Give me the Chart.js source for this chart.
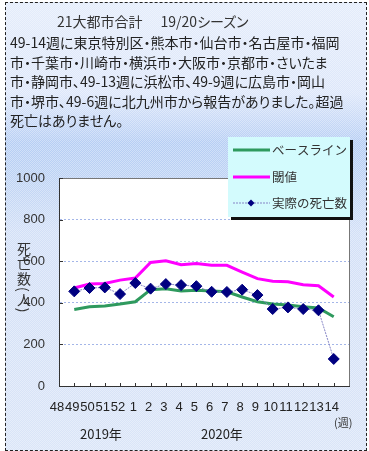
<!DOCTYPE html>
<html>
<head>
<meta charset="utf-8">
<script src="https://cdn.jsdelivr.net/npm/chart.js@4.4.1/dist/chart.umd.min.js"></script>
<style>
  html, body { margin: 0; padding: 0; background: #fff; }
  #wrap { position: relative; width: 369px; height: 451px; overflow: hidden; }
  #frame {
    position: absolute; left: 5px; top: 2px; width: 360px; height: 447px;
    border: 1px dashed #222;
    background:
      repeating-conic-gradient(rgba(255,255,255,.35) 0 25%, transparent 0 50%) 0 0/2px 2px,
      linear-gradient(180deg, #e4ecfb 0px, #dde7fa 90px, #b6cef4 140px, #bcd2f4 170px, #d3e0f7 230px, #dae5f8 447px);
  }
  canvas { position: absolute; left: 0; top: 0; }
  .t {
    position: absolute; white-space: nowrap; color: #222;
    font-family: "Noto Sans CJK JP", sans-serif; font-feature-settings: "palt";
  }
</style>
</head>
<body>
<div id="wrap">
  <div id="frame"></div>
  <canvas id="chart" width="369" height="451"></canvas>
  <div class="t" style="left:57px;top:12px;font-size:14px;line-height:19.5px;color:#333;">21大都市合計<span style="display:inline-block;width:18px;"></span>19/20シーズン</div>
  <div class="t" style="left:10px;top:33px;font-size:14px;line-height:19.5px;">49-14週に東京特別区・熊本市・仙台市・名古屋市・福岡<br>市・千葉市・川崎市・横浜市・大阪市・京都市・さいたま<br>市・静岡市、49-13週に浜松市、49-9週に広島市・岡山<br>市・堺市、49-6週に北九州市から報告がありました。超過<br>死亡はありません。</div>
  <div class="t" style="left:15px;top:242px;font-size:14px;line-height:18px;writing-mode:vertical-rl;letter-spacing:1px;color:#333;">死亡数(人)</div>
  <div class="t" style="left:80px;top:424px;font-size:13px;color:#222;">2019年</div>
  <div class="t" style="left:201px;top:424px;font-size:13px;color:#222;">2020年</div>
  <div class="t" style="left:334px;top:414px;font-size:11px;color:#333;">(週)</div>
</div>
<script>
// 週番号 (48週は軸の起点、末尾は空き)
const weeks = ['48', '49', '50', '51', '52', '1', '2', '3', '4', '5', '6', '7', '8', '9', '10', '11', '12', '13', '14', ''];

// ベースライン
const baseline = [null, 368, 381, 385, 394, 405, 463, 468, 457, 460, 457, 453, 428, 405, 394, 389, 381, 375, 333, null];
// 閾値
const threshold = [null, 471, 490, 493, 509, 519, 594, 602, 583, 589, 580, 580, 548, 516, 504, 501, 487, 482, 428, null];
// 実際の死亡数
const actual = [null, 455, 471, 474, 442, 495, 468, 490, 485, 480, 453, 452, 463, 437, 370, 378, 370, 364, 130, null];

const yTicks = [0, 200, 400, 600, 800, 1000];

const fontNum = "'Liberation Sans', 'Noto Sans CJK JP', sans-serif";
const fontJa = "'Noto Sans CJK JP', sans-serif";

// plot background, frame and the small inward tick marks
const plotFrame = {
  id: 'plotFrame',
  beforeDraw(chart) {
    const { ctx, chartArea: a } = chart;
    ctx.save();
    ctx.fillStyle = '#fff';
    ctx.fillRect(a.left, a.top, a.right - a.left, a.bottom - a.top);
    ctx.restore();
  },
  afterDatasetsDraw(chart) {
    const { ctx, chartArea: a, scales } = chart;
    ctx.save();
    ctx.strokeStyle = '#777';
    ctx.lineWidth = 1;
    ctx.beginPath();
    ctx.moveTo(a.left, a.top + 0.5);
    ctx.lineTo(a.right + 0.5, a.top + 0.5);
    ctx.lineTo(a.right + 0.5, a.bottom);
    ctx.stroke();
    ctx.strokeStyle = '#333';
    ctx.beginPath();
    yTicks.forEach((v) => {
      const y = Math.round(scales.y.getPixelForValue(v)) + 0.5;
      ctx.moveTo(a.left, y);
      ctx.lineTo(a.left + 4, y);
    });
    for (let i = 1; i < weeks.length - 1; i += 1) {
      const x = Math.round(scales.x.getPixelForValue(i)) + 0.5;
      ctx.moveTo(x, a.bottom);
      ctx.lineTo(x, a.bottom - 3);
    }
    ctx.stroke();
    ctx.restore();
  },
  afterDraw(chart) {
    // legend box with drop shadow, like the Excel one
    const { ctx } = chart;
    const bx = 228;
    const by = 137;
    const bw = 122;
    const bh = 80;
    ctx.save();
    ctx.fillStyle = '#111';
    ctx.fillRect(bx + 3, by + 3, bw, bh);
    ctx.fillStyle = '#d3fbfd';
    ctx.fillRect(bx, by, bw, bh);
    const rows = [150, 177, 203];
    chart.data.datasets.forEach((ds, i) => {
      const y = rows[i];
      ctx.strokeStyle = ds.borderColor;
      ctx.lineWidth = ds.borderWidth;
      ctx.setLineDash(ds.borderDash || []);
      ctx.beginPath();
      ctx.moveTo(233, y);
      ctx.lineTo(270, y);
      ctx.stroke();
      ctx.setLineDash([]);
      if (ds.pointRadius) {
        ctx.fillStyle = ds.pointBackgroundColor;
        const r = 3.5;
        ctx.beginPath();
        ctx.moveTo(251, y - r);
        ctx.lineTo(251 + r, y);
        ctx.lineTo(251, y + r);
        ctx.lineTo(251 - r, y);
        ctx.closePath();
        ctx.fill();
      }
      ctx.fillStyle = '#333';
      ctx.font = `12.5px ${fontJa}`;
      ctx.textBaseline = 'middle';
      ctx.fillText(ds.label, 272, y);
    });
    ctx.restore();
  },
};

const config = {
  type: 'line',
  data: {
    labels: weeks,
    datasets: [
      {
        label: 'ベースライン',
        data: baseline,
        borderColor: '#2f9a5e',
        borderWidth: 3,
        pointRadius: 0,
        tension: 0,
        order: 2,
      },
      {
        label: '閾値',
        data: threshold,
        borderColor: '#ff00ff',
        borderWidth: 3,
        pointRadius: 0,
        tension: 0,
        order: 1,
      },
      {
        label: '実際の死亡数',
        data: actual,
        borderColor: '#8585c6',
        borderWidth: 1,
        borderDash: [2, 1],
        pointStyle: 'rectRot',
        pointRadius: 5.5,
        pointBackgroundColor: '#000080',
        pointBorderColor: '#000080',
        pointBorderWidth: 1,
        tension: 0,
        order: 0,
      },
    ],
  },
  options: {
    animation: false,
    responsive: false,
    layout: {
      padding: { top: 178, right: 20, left: 0, bottom: 0 },
    },
    plugins: {
      legend: { display: false },
      tooltip: { enabled: false },
    },
    scales: {
      x: {
        type: 'category',
        offset: false,
        afterFit: (scale) => { scale.height = 65; },
        grid: { display: false, drawTicks: false },
        border: { display: true, color: '#333', width: 1 },
        ticks: {
          autoSkip: false,
          maxRotation: 0,
          minRotation: 0,
          padding: 14,
          labelOffset: -2,
          color: '#222',
          font: { size: 13, family: fontNum },
        },
      },
      y: {
        min: 0,
        max: 1000,
        afterFit: (scale) => { scale.width = 59; },
        afterBuildTicks: (scale) => { scale.ticks = yTicks.map((v) => ({ value: v })); },
        grid: {
          drawTicks: false,
          color: (c) => (c.tick && (c.tick.value === 0 || c.tick.value === 1000) ? 'rgba(0,0,0,0)' : '#a4b6e8'),
          lineWidth: 1,
        },
        border: { display: true, color: '#333', width: 1, dash: [2, 2] },
        ticks: {
          padding: 14,
          color: '#333',
          font: { size: 13, family: fontNum },
          callback: (value) => String(value),
        },
      },
    },
  },
  plugins: [plotFrame],
};

const myChart = new Chart(document.getElementById('chart'), config);
</script>
</body>
</html>
